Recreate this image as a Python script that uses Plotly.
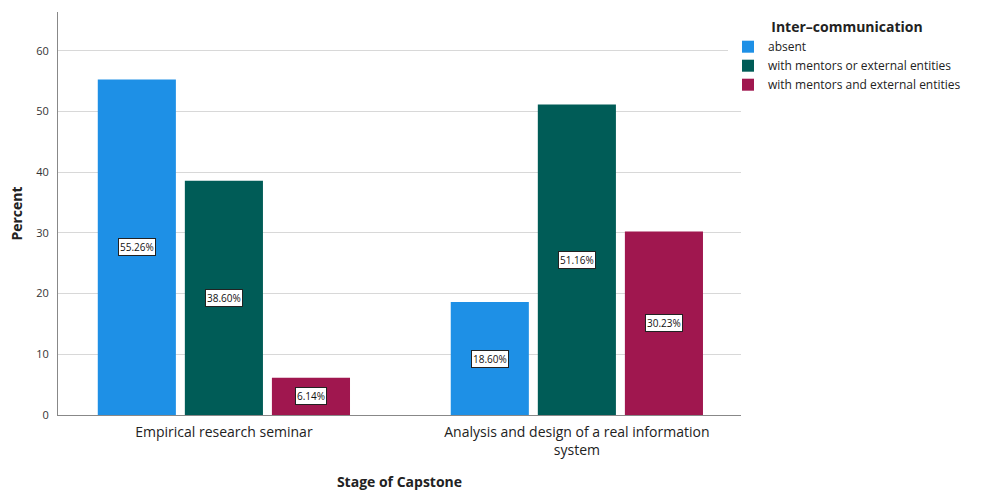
import plotly.graph_objects as go

categories = ["Empirical research seminar", "Analysis and design of a real information<br>system"]
series_names = ["absent", "with mentors or external entities", "with mentors and external entities"]
values = {
    "absent": [55.26, 18.60],
    "with mentors or external entities": [38.60, 51.16],
    "with mentors and external entities": [6.14, 30.23],
}
colors = ["#1E90E6", "#005C57", "#A0174F"]
y_ticks = [0, 10, 20, 30, 40, 50, 60]

FONT = "Open Sans"
bargap = 0.26
bargroupgap = 0.103

fig = go.Figure()
xs = list(range(len(categories)))
for s, c in zip(series_names, colors):
    fig.add_trace(go.Bar(x=xs, y=values[s], name=s, marker=dict(color=c, line=dict(width=0))))

n = len(series_names)
slot = (1 - bargap) / n
for j, s in enumerate(series_names):
    for i, v in enumerate(values[s]):
        fig.add_annotation(
            x=i + (j - (n - 1) / 2) * slot, y=v / 2, xref="x", yref="y",
            text=f"{v:.2f}%", showarrow=False,
            font=dict(family=FONT, size=10, color="#111"),
            bgcolor="white", bordercolor="#222", borderwidth=1, borderpad=1,
        )

fig.update_layout(
    width=982, height=491,
    margin=dict(l=58, r=241, t=12, b=76, autoexpand=False),
    paper_bgcolor="white", plot_bgcolor="white",
    barmode="group", bargap=bargap, bargroupgap=bargroupgap,
    font=dict(family=FONT, color="#222"),
    legend=dict(
        xref="container", yref="container",
        x=728 / 982, y=1 - 14 / 491, xanchor="left", yanchor="top",
        title=dict(text="<b>Inter–communication</b>", font=dict(size=14, family=FONT), side="top center"),
        font=dict(size=12, family=FONT), tracegroupgap=0, itemsizing="constant",
        itemwidth=30,
    ),
    showlegend=True,
)
fig.update_xaxes(
    range=[-0.47, 1.465], tickvals=xs, ticktext=categories,
    tickfont=dict(size=14, family=FONT, color="#222"),
    showline=True, linecolor="#888", linewidth=1, ticks="", automargin=False,
    ticklabelstandoff=4,
    title=dict(text="<b>Stage of Capstone</b>", font=dict(size=14, family=FONT), standoff=22),
)
fig.update_yaxes(
    range=[0, 66.4], tickvals=y_ticks,
    tickfont=dict(size=11, family=FONT, color="#333"),
    showline=True, linecolor="#888", linewidth=1, automargin=False,
    showgrid=True, gridcolor="#d8d8d8", gridwidth=1, zeroline=False,
    ticks="", ticklabelstandoff=6,
    title=dict(text="<b>Percent</b>", font=dict(size=14, family=FONT), standoff=10),
)

fig.write_html("out.html")
